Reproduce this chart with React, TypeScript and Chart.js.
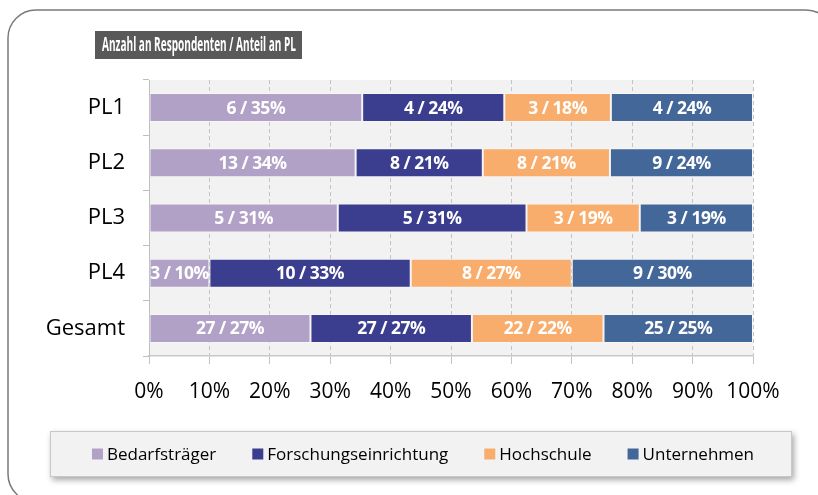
import { useEffect, useRef } from 'react';
import { Chart, registerables } from 'chart.js';

Chart.register(...registerables);

const categories = ['PL1', 'PL2', 'PL3', 'PL4', 'Gesamt'];
const seriesNames = ['Bedarfsträger', 'Forschungseinrichtung', 'Hochschule', 'Unternehmen'];
const bedarfstraeger = [6, 13, 5, 3, 27];
const forschungseinrichtung = [4, 8, 5, 10, 27];
const hochschule = [3, 8, 3, 8, 22];
const unternehmen = [4, 9, 3, 9, 25];
const seriesColors = ['#b2a1c7', '#3b3e8f', '#f9ad6c', '#44679a'];
const xTickLabels = ['0%', '10%', '20%', '30%', '40%', '50%', '60%', '70%', '80%', '90%', '100%'];
const titleText = 'Anzahl an Respondenten / Anteil an PL';

const counts = [bedarfstraeger, forschungseinrichtung, hochschule, unternehmen];
const totals = categories.map((_, i) => counts.reduce((s, arr) => s + arr[i], 0));
const shares = counts.map((arr) => arr.map((v, i) => (v / totals[i]) * 100));

const FONT = '"Open Sans", "Noto Sans", sans-serif';

const framePlugin = {
  id: 'frame',
  beforeDraw(chart: any) {
    const { ctx, chartArea } = chart;
    ctx.save();
    ctx.strokeStyle = '#7a7a7a';
    ctx.lineWidth = 1.5;
    ctx.beginPath();
    (ctx as any).roundRect(8, 10, 826, 492, 28);
    ctx.stroke();
    ctx.fillStyle = '#f2f2f2';
    ctx.fillRect(chartArea.left, chartArea.top, chartArea.right - chartArea.left, chartArea.bottom - chartArea.top);
    ctx.fillStyle = '#595959';
    ctx.fillRect(95, 31, 207, 28);
    ctx.fillStyle = '#ffffff';
    ctx.font = `bold 19px ${FONT}`;
    ctx.textBaseline = 'middle';
    ctx.textAlign = 'center';
    const w = ctx.measureText(titleText).width;
    const sx = 194 / w;
    ctx.translate(199, 46);
    ctx.scale(sx, 1);
    ctx.fillText(titleText, 0, 0);
    ctx.restore();
  },
};

const labelPlugin = {
  id: 'segLabels',
  afterDatasetsDraw(chart: any) {
    const { ctx } = chart;
    ctx.save();
    ctx.fillStyle = '#ffffff';
    ctx.font = `bold 17.5px ${FONT}`;
    (ctx as any).letterSpacing = '-0.5px';
    ctx.textAlign = 'center';
    ctx.textBaseline = 'middle';
    chart.data.datasets.forEach((ds: any, di: number) => {
      const meta = chart.getDatasetMeta(di);
      meta.data.forEach((el: any, i: number) => {
        const cx = (el.x + el.base) / 2;
        const txt = `${counts[di][i]} / ${Math.round(shares[di][i])}%`;
        ctx.fillText(txt, cx, el.y + 1);
      });
    });
    ctx.restore();
  },
};

const legendPlugin = {
  id: 'boxLegend',
  afterDraw(chart: any) {
    const { ctx } = chart;
    ctx.save();
    const bx = 50, by = 431, bw = 742, bh = 46;
    ctx.shadowColor = 'rgba(0,0,0,0.35)';
    ctx.shadowBlur = 6;
    ctx.shadowOffsetX = 2;
    ctx.shadowOffsetY = 3;
    ctx.fillStyle = '#f2f2f2';
    ctx.fillRect(bx, by, bw, bh);
    ctx.shadowColor = 'transparent';
    ctx.strokeStyle = '#c8c8c8';
    ctx.lineWidth = 1;
    ctx.strokeRect(bx + 0.5, by + 0.5, bw - 1, bh - 1);
    ctx.font = `17px ${FONT}`;
    ctx.textBaseline = 'middle';
    ctx.textAlign = 'left';
    const box = 11, gapText = 4, gapItem = 36;
    const items = chart.data.datasets.map((d: any) => ({ label: d.label, color: d.backgroundColor }));
    const widths = items.map((it: any) => box + gapText + ctx.measureText(it.label).width);
    const total = widths.reduce((a: number, b: number) => a + b, 0) + gapItem * (items.length - 1);
    let x = 423 - total / 2;
    const cy = 454;
    items.forEach((it: any, i: number) => {
      ctx.fillStyle = it.color;
      ctx.fillRect(x, cy - box / 2, box, box);
      ctx.fillStyle = '#000000';
      ctx.fillText(it.label, x + box + gapText, cy + 1);
      x += widths[i] + gapItem;
    });
    ctx.restore();
  },
};

export default function App() {
  const ref = useRef<HTMLCanvasElement | null>(null);
  useEffect(() => {
    if (!ref.current) return;
    const chart = new Chart(ref.current, {
      type: 'bar',
      data: {
        labels: categories,
        datasets: seriesNames.map((name, di) => ({
          label: name,
          data: shares[di],
          backgroundColor: seriesColors[di],
          borderColor: 'rgba(255,255,255,0.3)',
          borderWidth: 1,
          borderSkipped: false,
          categoryPercentage: 1,
          barPercentage: 0.525,
        })),
      },
      options: {
        indexAxis: 'y',
        animation: false,
        responsive: false,
        layout: { padding: { top: 80, left: 0, right: 65, bottom: 0 } },
        plugins: {
          legend: { display: false },
          tooltip: { enabled: false },
          title: { display: false },
        },
        scales: {
          x: {
            stacked: true,
            min: 0,
            max: 100,
            ticks: {
              stepSize: 10,
              padding: 15,
              color: '#000000',
              font: { family: FONT, size: 21 },
              callback: (_v: any, i: number) => xTickLabels[i],
            },
            grid: {
              color: '#c4c4c4',
              tickColor: '#c4c4c4',
              tickLength: 8,
              tickBorderDash: [],
            },
            border: { color: '#c8c8c8', width: 1.5, dash: [4, 3] },
            afterFit: (scale: any) => {
              scale.height = 139;
            },
          },
          y: {
            stacked: true,
            ticks: {
              padding: 18,
              color: '#000000',
              font: { family: FONT, size: 22 },
            },
            grid: {
              offset: true,
              drawOnChartArea: false,
              color: '#bfbfbf',
              tickLength: 6,
            },
            border: { color: '#bfbfbf', width: 1 },
            afterFit: (scale: any) => {
              scale.width = 149;
            },
          },
        },
      },
      plugins: [framePlugin, labelPlugin, legendPlugin],
    } as any);
    return () => chart.destroy();
  }, []);
  return (
    <div style={{ position: 'absolute', left: 0, top: 0, width: 818, height: 495 }}>
      <canvas ref={ref} width={818} height={495} />
    </div>
  );
}
